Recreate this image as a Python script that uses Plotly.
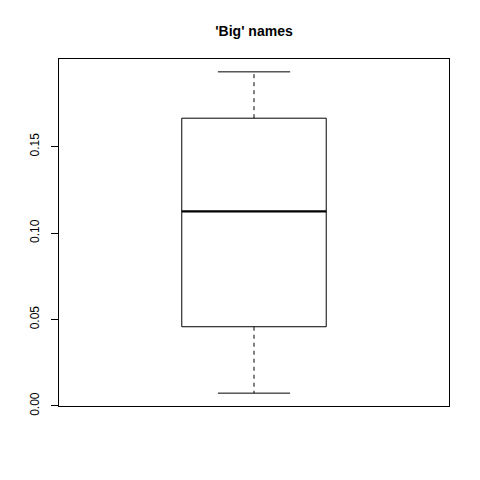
import plotly.graph_objects as go

# Box statistics
group = [1]
lower_whisker = [0.0074]
q1 = [0.0458]
median = [0.1125]
q3 = [0.1664]
upper_whisker = [0.1932]
y_ticks = [0.00, 0.05, 0.10, 0.15]
y_tick_labels = ["0.00", "0.05", "0.10", "0.15"]
title_text = "'Big' names"

box_half = 0.2
cap_half = 0.1

lo, hi = min(lower_whisker), max(upper_whisker)
pad = (hi - lo) * 0.04
y_range = [lo - pad, hi + pad]
x_range = [0.5 - 0.04, 1.5 + 0.04]

fig = go.Figure()
black = "black"
for i, g in enumerate(group):
    # box
    fig.add_trace(go.Scatter(
        x=[g - box_half, g + box_half, g + box_half, g - box_half, g - box_half],
        y=[q1[i], q1[i], q3[i], q3[i], q1[i]],
        mode="lines", line=dict(color=black, width=1), showlegend=False, hoverinfo="skip"))
    # median
    fig.add_trace(go.Scatter(
        x=[g - box_half, g + box_half], y=[median[i], median[i]],
        mode="lines", line=dict(color=black, width=2.2), showlegend=False, hoverinfo="skip"))
    # whiskers (dashed)
    fig.add_trace(go.Scatter(
        x=[g, g, None, g, g], y=[q3[i], upper_whisker[i], None, q1[i], lower_whisker[i]],
        mode="lines", line=dict(color=black, width=1, dash="4px,4px"), showlegend=False, hoverinfo="skip"))
    # caps
    fig.add_trace(go.Scatter(
        x=[g - cap_half, g + cap_half, None, g - cap_half, g + cap_half],
        y=[upper_whisker[i], upper_whisker[i], None, lower_whisker[i], lower_whisker[i]],
        mode="lines", line=dict(color=black, width=1), showlegend=False, hoverinfo="skip"))

fig.update_layout(
    width=480, height=480,
    margin=dict(l=59, r=31, t=59, b=74, pad=0),
    plot_bgcolor="white", paper_bgcolor="white",
    font=dict(family="Liberation Sans, Arial, sans-serif", size=12, color="black"),
    title=dict(text="<b>" + title_text + "</b>", x=254 / 480, xanchor="center",
               y=1 - 31 / 480, yanchor="middle", yref="container",
               font=dict(size=14, family="Liberation Sans, Arial, sans-serif", color="black")),
    xaxis=dict(range=x_range, showgrid=False, zeroline=False, showticklabels=False,
               ticks="", showline=True, linecolor="black", linewidth=1, mirror=True),
    yaxis=dict(range=y_range, showgrid=False, zeroline=False, tickmode="array",
               tickvals=y_ticks, ticktext=y_tick_labels, ticks="outside", ticklen=7,
               tickcolor="black", tickwidth=1, tickangle=-90,
               showline=True, linecolor="black", linewidth=1, mirror=True,
               ticklabelstandoff=7,
               tickfont=dict(size=12, family="Liberation Sans, Arial, sans-serif")),
)

fig.write_html("out.html")
